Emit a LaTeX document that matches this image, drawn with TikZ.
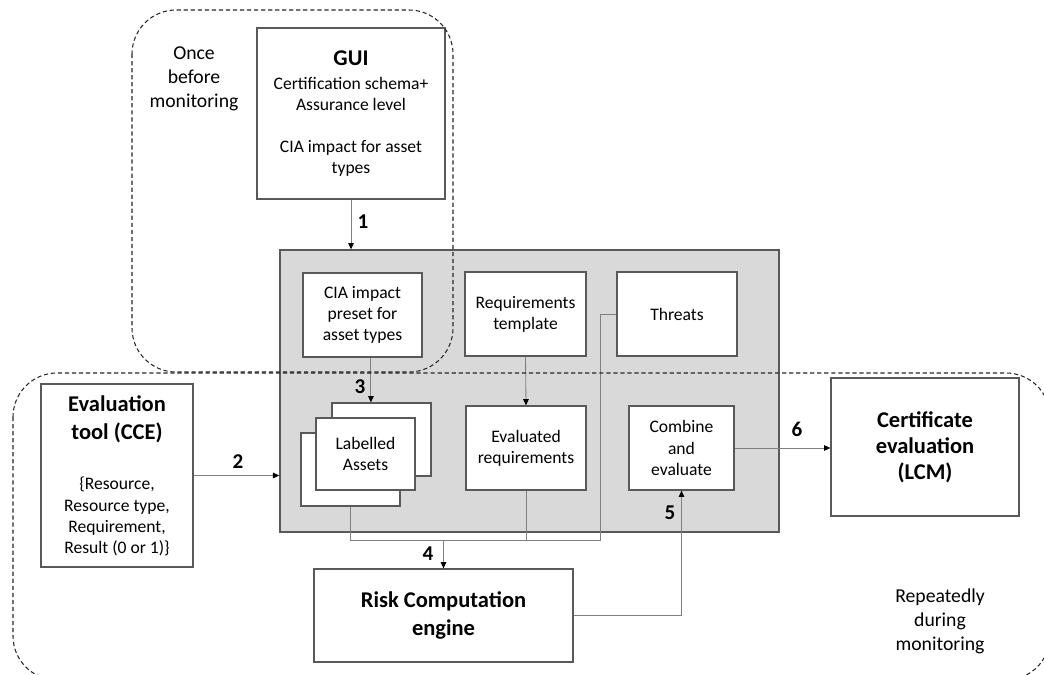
\documentclass[tikz,border=0pt]{standalone}
\usepackage{fontspec}
\setmainfont{Carlito}
\usetikzlibrary{arrows.meta}

\definecolor{boxline}{HTML}{595959}
\definecolor{panelgray}{HTML}{D9D9D9}
\definecolor{wiregray}{HTML}{808080}
\newcommand{\ttl}[1]{{\fontsize{16}{20}\selectfont\bfseries #1}}

\begin{document}
\begin{tikzpicture}[x=0.025cm, y=-0.025cm,
    >={Triangle[length=4.5pt,width=4pt,color=black]},
    box/.style={draw=boxline, line width=0.9pt, fill=white, align=center,
      inner sep=2pt, font=\fontsize{12.5}{15}\selectfont},
    wire/.style={draw=wiregray, line width=0.6pt},
    num/.style={font=\fontsize{15}{18}\selectfont\bfseries},
    zone/.style={draw=black!85, dash pattern=on 3pt off 2pt, line width=0.75pt,
      rounded corners=1.1cm},
    note/.style={align=center, font=\fontsize{14}{17}\selectfont}]
    \useasboundingbox (0,0) rectangle (1044,675);

    % outer tools
    \node [box, minimum width=4.7cm, minimum height=4.275cm] (gui) at (351,113.5)
      {\ttl{GUI}\\[2pt] Certification schema+\\ Assurance level\\[15pt]
       CIA impact for asset\\ types};
    \node [box, minimum width=3.8cm, minimum height=4.575cm] (cce) at (117,475.5)
      {\ttl{Evaluation}\\[5pt] \ttl{tool (CCE)}\\[21pt] \{Resource,\\
       Resource type,\\ Requirement,\\ Result (0 or 1)\}};
    \node [box, minimum width=4.7cm, minimum height=3.45cm] (lcm) at (925,447)
      {\ttl{Certificate}\\[3.4pt] \ttl{evaluation}\\[3.4pt] \ttl{(LCM)}};
    \node [box, minimum width=6.475cm, minimum height=2.325cm] (risk) at (443.5,615.5)
      {\ttl{Risk Computation}\\[5.5pt] \ttl{engine}};

    % the gray panel and its boxes
    \node [box, fill=panelgray, minimum width=12.475cm, minimum height=7.05cm]
      (panel) at (529.5,391) {};
    \node [box, minimum width=2.975cm, minimum height=2.1cm] (ciaset) at (362.5,315)
      {CIA impact\\ preset for\\ asset types};
    \node [box, minimum width=3.025cm, minimum height=2.1cm] (reqtpl) at (525.5,314)
      {Requirements\\ template};
    \node [box, minimum width=3cm, minimum height=2.1cm] (threats) at (677,314)
      {Threats};
    \node [box, minimum width=2.475cm, minimum height=1.825cm] (assetb) at (381.5,439.5) {};
    \node [box, minimum width=2.475cm, minimum height=1.825cm] (assetc) at (350.5,469.5) {};
    \node [box, minimum width=2.475cm, minimum height=1.8cm] (asseta) at (365.5,454)
      {Labelled\\ Assets};
    \node [box, minimum width=3cm, minimum height=2.1cm] (reqeval) at (526,448)
      {Evaluated\\ requirements};
    \node [box, minimum width=2.625cm, minimum height=2.1cm] (combine) at (681.5,448)
      {Combine\\ and\\ evaluate};

    % connectors
    \draw [wire, ->] (gui.south) -- (gui.south |- panel.north);
    \draw [wire, ->] (cce.east) -- (cce.east -| panel.west);
    \draw [wire, ->] ([xshift=0.21cm]ciaset.south) -- ([xshift=0.21cm]ciaset.south |- assetb.north);
    \draw [wire, ->] (reqtpl.south) -- (reqeval.north);
    \coordinate (bus) at (443.5,540);
    \draw [wire] (assetc.south) |- (bus);
    \draw [wire] (reqeval.south) |- (bus);
    \draw [wire] (threats.west) -- ++(-16,0) |- (bus);
    \draw [wire, ->] (bus) -- (risk.north);
    \draw [wire, ->] (risk.east) -| (combine.south);
    \draw [wire, ->] (combine.east) -- (combine.east -| lcm.west);

    % the two phases
    \draw [zone] (132,10) rectangle (453,372);
    \draw [zone] (13,373) rectangle (1050,680);
    \node [note] (once) at (194,79) {Once\\ before\\ monitoring};
    \node [note] (again) at (940,621) {Repeatedly\\ during\\ monitoring};

    % step numbers
    \node [num] (n1) at (363,222) {1};
    \node [num] (n2) at (238,462) {2};
    \node [num] (n3) at (360,387) {3};
    \node [num] (n4) at (428,554) {4};
    \node [num] (n5) at (670,513) {5};
    \node [num] (n6) at (797,429) {6};
\end{tikzpicture}
\end{document}
